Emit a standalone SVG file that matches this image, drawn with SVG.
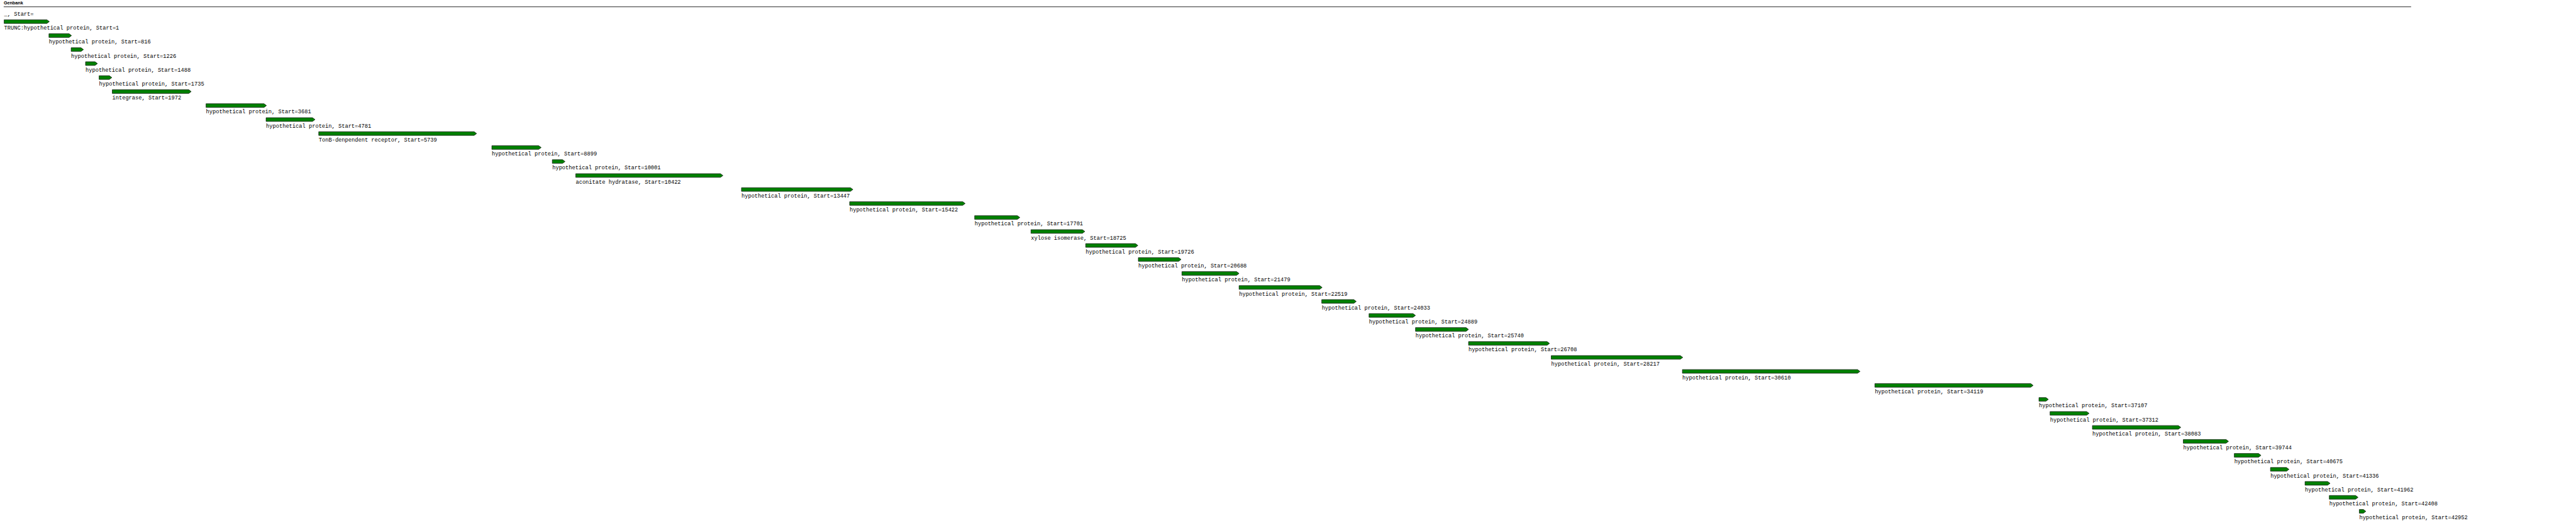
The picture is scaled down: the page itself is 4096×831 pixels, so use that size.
<svg xmlns="http://www.w3.org/2000/svg" width="4096" height="831" viewBox="0 0 4096 831">
<style>
.g{fill:#008000;stroke:#000;stroke-width:1}
.t{font-family:"Liberation Mono","DejaVu Sans Mono",monospace;font-size:13.33px;fill:#000}
.h{font-family:"Liberation Sans",Arial,sans-serif;font-size:11px;font-weight:bold;fill:#000}
</style>
<rect width="4096" height="831" fill="#fff"/>
<g transform="scale(0.6539)">
<g id="header">
<text class="h" x="9" y="11">Genbank</text>
<line x1="9" y1="16.5" x2="5863" y2="16.5" stroke="#000" stroke-width="1.3"/>
</g>
<g id="row0"><text class="t" x="10" y="38">_, Start=</text></g>
<g id="gene1"><polygon class="g" points="10,48 114,48 120,52.5 114,57 10,57"/><text class="t" x="10" y="72">TRUNC:hypothetical protein, Start=1</text></g>
<g id="gene2"><polygon class="g" points="119,82 168,82 174,86.5 168,91 119,91"/><text class="t" x="119" y="106">hypothetical protein, Start=816</text></g>
<g id="gene3"><polygon class="g" points="173,116 197,116 203,120.5 197,125 173,125"/><text class="t" x="173" y="140">hypothetical protein, Start=1226</text></g>
<g id="gene4"><polygon class="g" points="208,150 231,150 237,154.5 231,159 208,159"/><text class="t" x="208" y="174">hypothetical protein, Start=1488</text></g>
<g id="gene5"><polygon class="g" points="241,184 266,184 272,188.5 266,193 241,193"/><text class="t" x="241" y="208">hypothetical protein, Start=1735</text></g>
<g id="gene6"><polygon class="g" points="273,218 459,218 465,222.5 459,227 273,227"/><text class="t" x="273" y="242">integrase, Start=1972</text></g>
<g id="gene7"><polygon class="g" points="501,252 642,252 648,256.5 642,261 501,261"/><text class="t" x="501" y="276">hypothetical protein, Start=3681</text></g>
<g id="gene8"><polygon class="g" points="647,286 760,286 766,290.5 760,295 647,295"/><text class="t" x="647" y="310">hypothetical protein, Start=4781</text></g>
<g id="gene9"><polygon class="g" points="775,320 1153,320 1159,324.5 1153,329 775,329"/><text class="t" x="775" y="344">TonB-denpendent receptor, Start=5739</text></g>
<g id="gene10"><polygon class="g" points="1196,354 1310,354 1316,358.5 1310,363 1196,363"/><text class="t" x="1196" y="378">hypothetical protein, Start=8899</text></g>
<g id="gene11"><polygon class="g" points="1343,388 1368,388 1374,392.5 1368,397 1343,397"/><text class="t" x="1343" y="412">hypothetical protein, Start=10001</text></g>
<g id="gene12"><polygon class="g" points="1400,422 1752,422 1758,426.5 1752,431 1400,431"/><text class="t" x="1400" y="446">aconitate hydratase, Start=10422</text></g>
<g id="gene13"><polygon class="g" points="1803,456 2068,456 2074,460.5 2068,465 1803,465"/><text class="t" x="1803" y="480">hypothetical protein, Start=13447</text></g>
<g id="gene14"><polygon class="g" points="2066,490 2341,490 2347,494.5 2341,499 2066,499"/><text class="t" x="2066" y="514">hypothetical protein, Start=15422</text></g>
<g id="gene15"><polygon class="g" points="2370,524 2474,524 2480,528.5 2474,533 2370,533"/><text class="t" x="2370" y="548">hypothetical protein, Start=17701</text></g>
<g id="gene16"><polygon class="g" points="2507,558 2632,558 2638,562.5 2632,567 2507,567"/><text class="t" x="2507" y="582">xylose isomerase, Start=18725</text></g>
<g id="gene17"><polygon class="g" points="2640,592 2761,592 2767,596.5 2761,601 2640,601"/><text class="t" x="2640" y="616">hypothetical protein, Start=19726</text></g>
<g id="gene18"><polygon class="g" points="2768,626 2866,626 2872,630.5 2866,635 2768,635"/><text class="t" x="2768" y="650">hypothetical protein, Start=20688</text></g>
<g id="gene19"><polygon class="g" points="2874,660 3007,660 3013,664.5 3007,669 2874,669"/><text class="t" x="2874" y="684">hypothetical protein, Start=21479</text></g>
<g id="gene20"><polygon class="g" points="3013,694 3209,694 3215,698.5 3209,703 3013,703"/><text class="t" x="3013" y="718">hypothetical protein, Start=22519</text></g>
<g id="gene21"><polygon class="g" points="3214,728 3292,728 3298,732.5 3292,737 3214,737"/><text class="t" x="3214" y="752">hypothetical protein, Start=24033</text></g>
<g id="gene22"><polygon class="g" points="3329,762 3436,762 3442,766.5 3436,771 3329,771"/><text class="t" x="3329" y="786">hypothetical protein, Start=24889</text></g>
<g id="gene23"><polygon class="g" points="3442,796 3565,796 3571,800.5 3565,805 3442,805"/><text class="t" x="3442" y="820">hypothetical protein, Start=25740</text></g>
<g id="gene24"><polygon class="g" points="3571,830 3762,830 3768,834.5 3762,839 3571,839"/><text class="t" x="3571" y="854">hypothetical protein, Start=26708</text></g>
<g id="gene25"><polygon class="g" points="3772,864 4086,864 4092,868.5 4086,873 3772,873"/><text class="t" x="3772" y="888">hypothetical protein, Start=28217</text></g>
<g id="gene26"><polygon class="g" points="4091,898 4517,898 4523,902.5 4517,907 4091,907"/><text class="t" x="4091" y="922">hypothetical protein, Start=30610</text></g>
<g id="gene27"><polygon class="g" points="4559,932 4938,932 4944,936.5 4938,941 4559,941"/><text class="t" x="4559" y="956">hypothetical protein, Start=34119</text></g>
<g id="gene28"><polygon class="g" points="4958,966 4975,966 4981,970.5 4975,975 4958,975"/><text class="t" x="4958" y="990">hypothetical protein, Start=37107</text></g>
<g id="gene29"><polygon class="g" points="4985,1000 5074,1000 5080,1004.5 5074,1009 4985,1009"/><text class="t" x="4985" y="1024">hypothetical protein, Start=37312</text></g>
<g id="gene30"><polygon class="g" points="5088,1034 5297,1034 5303,1038.5 5297,1043 5088,1043"/><text class="t" x="5088" y="1058">hypothetical protein, Start=38083</text></g>
<g id="gene31"><polygon class="g" points="5309,1068 5413,1068 5419,1072.5 5413,1077 5309,1077"/><text class="t" x="5309" y="1092">hypothetical protein, Start=39744</text></g>
<g id="gene32"><polygon class="g" points="5433,1102 5492,1102 5498,1106.5 5492,1111 5433,1111"/><text class="t" x="5433" y="1126">hypothetical protein, Start=40675</text></g>
<g id="gene33"><polygon class="g" points="5521,1136 5560,1136 5566,1140.5 5560,1145 5521,1145"/><text class="t" x="5521" y="1160">hypothetical protein, Start=41336</text></g>
<g id="gene34"><polygon class="g" points="5605,1170 5660,1170 5666,1174.5 5660,1179 5605,1179"/><text class="t" x="5605" y="1194">hypothetical protein, Start=41962</text></g>
<g id="gene35"><polygon class="g" points="5664,1204 5728,1204 5734,1208.5 5728,1213 5664,1213"/><text class="t" x="5664" y="1228">hypothetical protein, Start=42408</text></g>
<g id="gene36"><polygon class="g" points="5737,1238 5747,1238 5753,1242.5 5747,1247 5737,1247"/><text class="t" x="5737" y="1262">hypothetical protein, Start=42952</text></g>
</g>
</svg>
